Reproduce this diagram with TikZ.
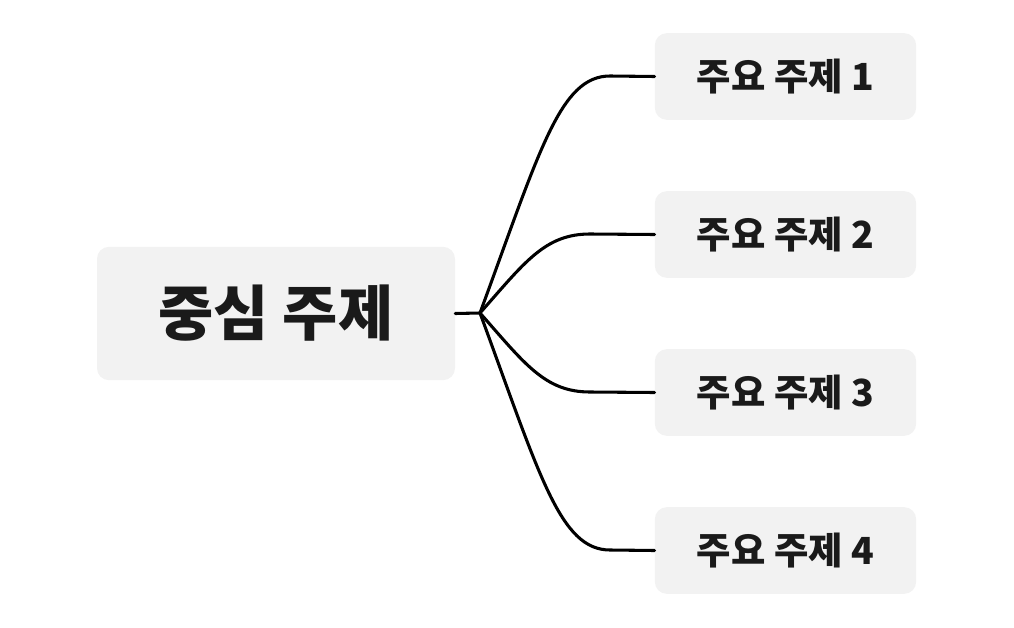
\documentclass[tikz,border=0pt]{standalone}
\usepackage{fontspec}
\newfontfamily\kr{Noto Sans CJK KR}
\definecolor{boxgray}{HTML}{F2F2F2}
\definecolor{ink}{HTML}{1A1A1A}
\begin{document}
\begin{tikzpicture}[x=0.75pt,y=-0.75pt,
  box/.style={fill=boxgray,rounded corners=9pt,inner sep=0pt,text=ink},
  conn/.style={line width=2.3pt,line cap=round,line join=round}]
\useasboundingbox (0,0) rectangle (1014,628);
\node[box,minimum width=268.5pt,minimum height=100pt,font=\kr\bfseries\fontsize{45}{52}\selectfont] (c) at (276,313.5) {중심 주제};
\foreach \i/\y in {1/76.5,2/234.5,3/392.5,4/550.5}{
  \node[box,minimum width=196pt,minimum height=65pt,font=\kr\bfseries\fontsize{28}{32}\selectfont] (t\i) at (785.5,\y) {주요 주제 \i};
}
\coordinate (hub) at (480,313);
\draw[conn] (c.east) -- (hub);
\draw[conn] (hub) .. controls (540,150) and (560,76) .. (610,76) -- (t1.west);
\draw[conn] (hub) .. controls (525,262) and (545,234) .. (590,234) -- (t2.west);
\draw[conn] (hub) .. controls (525,364) and (545,392) .. (590,392) -- (t3.west);
\draw[conn] (hub) .. controls (540,476) and (560,550) .. (610,550) -- (t4.west);
\end{tikzpicture}
\end{document}
